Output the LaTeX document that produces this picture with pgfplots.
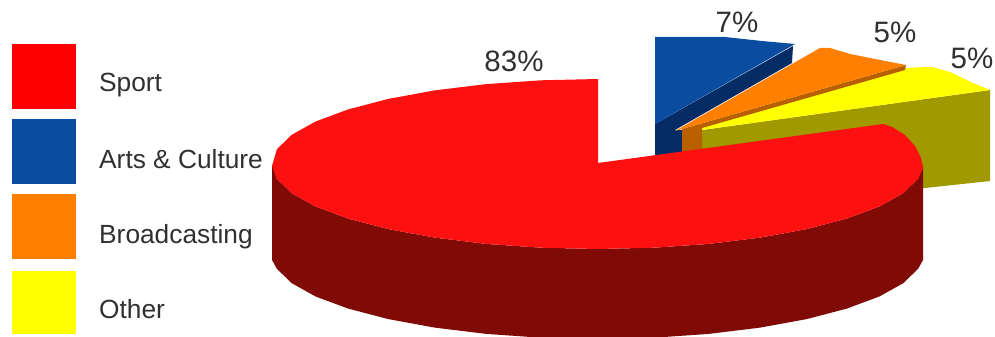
\documentclass[border=0pt]{standalone}
\usepackage{fontspec}
\setmainfont{Liberation Sans}
\usepackage{pgfplots}
\pgfplotsset{compat=1.18}
\definecolor{sportTop}{HTML}{FC1010}
\definecolor{sportSide}{HTML}{800A05}
\definecolor{artsTop}{HTML}{0A4DA0}
\definecolor{artsSide}{HTML}{062C66}
\definecolor{castTop}{HTML}{FF8000}
\definecolor{castSide}{HTML}{B85F00}
\definecolor{otherTop}{HTML}{FFFF00}
\definecolor{otherSide}{HTML}{A09A00}
\definecolor{inkgrey}{HTML}{303030}
\begin{document}
\begin{tikzpicture}
\begin{axis}[
  scale only axis, width=995pt, height=337pt,
  xmin=0, xmax=995, ymin=0, ymax=337, y dir=reverse,
  axis lines=none, clip=true,
  every axis plot/.append style={draw=none, line width=0pt},
]
% full canvas, so the page keeps its size
\path (axis cs:0,0) rectangle (axis cs:995,337);

% legend swatches
\addplot[fill=red] coordinates {(12,44) (76,44) (76,109) (12,109)} --cycle;
\addplot[fill=artsTop] coordinates {(12,119) (76,119) (76,184) (12,184)} --cycle;
\addplot[fill=castTop] coordinates {(12,194) (76,194) (76,259) (12,259)} --cycle;
\addplot[fill=otherTop] coordinates {(12,271) (76,271) (76,334) (12,334)} --cycle;

% Arts & Culture slice
\addplot[fill=artsSide] coordinates {(655,124) (793,46) (792,63) (675,130) (684,130) (684,156) (655,156)} --cycle;
\addplot[fill=artsTop] coordinates {(655,37) (725,37) (762,41) (795,44) (655,124)} --cycle;

% Other slice
\addplot[fill=otherSide] coordinates {(702,130) (990,90) (990,181) (925,188) (900,190) (702,160)} --cycle;
\addplot[fill=otherTop] coordinates {(702,126) (905,68) (923,67) (932,67) (950,72) (973,83) (990,90) (702,130)} --cycle;

% Broadcasting slice
\addplot[fill=castSide] coordinates {(682,129) (906,65) (905,70) (702,128) (702,155) (682,155)} --cycle;
\addplot[fill=castTop] coordinates {(675,131) (820,48) (830,48) (850,54) (880,60) (906,65)} --cycle;

% Sport slice, side wall first
\addplot[fill=sportSide] coordinates {
  (923,164) (918.1,178.8) (903.4,193.1) (879.4,206.5) (846.8,218.6) (806.7,229.1)
  (760.3,237.6) (708.8,243.9) (654,247.7) (597.5,249) (541,247.7) (486.2,243.9)
  (434.7,237.6) (388.3,229.1) (348.2,218.6) (315.6,206.5) (291.6,193.1) (276.9,178.8) (272,164)
  (272,260) (276.9,268.8) (291.6,283.1) (315.6,296.5) (348.2,308.6) (388.3,319.1)
  (434.7,327.6) (486.2,333.9) (541,337.7) (597.5,339) (654,337.7) (708.8,333.9)
  (760.3,327.6) (806.7,319.1) (846.8,308.6) (879.4,296.5) (903.4,283.1) (918.1,268.8) (923,260)
} --cycle;
\addplot[fill=sportTop] coordinates {
  (598,163) (883,124) (892,127) (905,135) (915,146) (921,158) (923,168)
  (918.1,178.8) (903.4,193.1) (879.4,206.5) (846.8,218.6) (806.7,229.1)
  (760.3,237.6) (708.8,243.9) (654,247.7) (597.5,249) (541,247.7) (486.2,243.9)
  (434.7,237.6) (388.3,229.1) (348.2,218.6) (315.6,206.5) (291.6,193.1) (276.9,178.8) (272,166)
  (276.9,149.2) (291.6,134.9) (315.6,121.5) (348.2,109.4) (388.3,98.9) (434.7,90.4)
  (486.2,84.1) (541,80.3) (598,79)
} --cycle;

% legend names
\begin{scope}[every node/.style={text=inkgrey, font=\fontsize{26.3}{30}\selectfont, anchor=base west, inner sep=0pt}]
\node at (axis cs:99,91) {Sport};
\node at (axis cs:99,168) {Arts \& Culture};
\node at (axis cs:99,243) {Broadcasting};
\node at (axis cs:99,318) {Other};
\end{scope}

% share labels
\begin{scope}[every node/.style={text=inkgrey, font=\fontsize{29.5}{34}\selectfont, anchor=base, inner sep=0pt}]
\node at (axis cs:514,71) {83\%};
\node at (axis cs:737,33) {7\%};
\node at (axis cs:895,43) {5\%};
\node at (axis cs:972,68) {5\%};
\end{scope}
\end{axis}
\end{tikzpicture}
\end{document}
